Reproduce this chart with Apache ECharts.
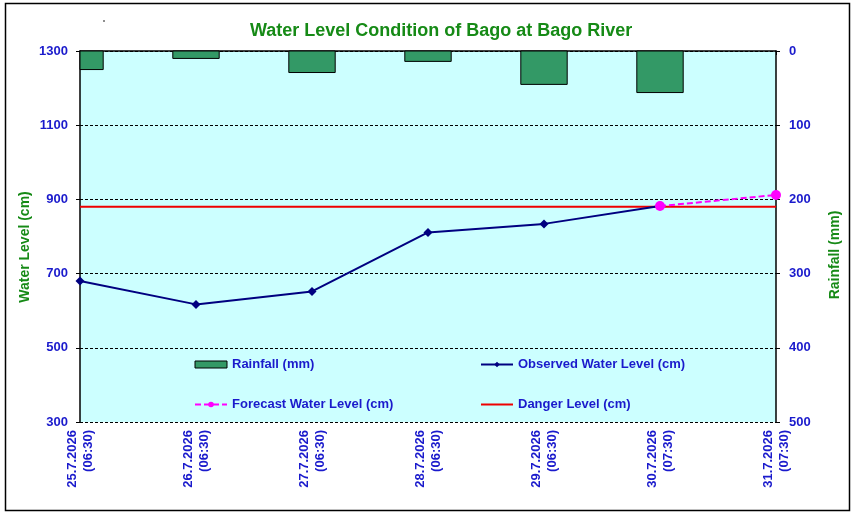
<html>
    <head>
        <meta charset="utf-8">
        <script src="https://cdn.jsdelivr.net/npm/echarts@6/dist/echarts.min.js"></script>
    </head>
    <body>
        <style>
            html, body, #main {
                width: 100%;
                height: 100%;
                margin: 0;
                background: #fff;
            }
        </style>
        <div id='main'></div>
        <script>
            // data
            var dates = ['25.7.2026', '26.7.2026', '27.7.2026', '28.7.2026', '29.7.2026', '30.7.2026', '31.7.2026'];
            var times = ['(06:30)', '(06:30)', '(06:30)', '(06:30)', '(06:30)', '(07:30)', '(07:30)'];
            var rainfall = [25, 10, 29, 14, 45, 56, 0];
            var observed = [680, 617, 652, 811, 834, 882, null];
            var forecast = [null, null, null, null, null, 882, 912];
            var danger = [880, 880, 880, 880, 880, 880, 880];
            var levelTicks = [300, 1300, 200];   // min, max, interval
            var rainTicks = [0, 500, 100];

            var categories = dates.map(function (d, i) { return d + '\n' + times[i]; });

            var blue = '#1a1acc';
            var green = '#168a16';
            var font = 'Arial, "Liberation Sans", sans-serif';
            var labelStyle = { color: blue, fontWeight: 'bold', fontSize: 13, fontFamily: font };

            // bars centred on the ticks, clipped to the plot area
            var renderRain = function (params, api) {
                var v = api.value(1);
                if (!v) return null;
                var p0 = api.coord([api.value(0), 0]);
                var p1 = api.coord([api.value(0), v]);
                var w = api.size([1, 0])[0] * 0.4;
                var cs = params.coordSys;
                var rect = echarts.graphic.clipRectByRect(
                    { x: p0[0] - w / 2, y: p0[1], width: w, height: p1[1] - p0[1] },
                    { x: cs.x, y: cs.y, width: cs.width, height: cs.height }
                );
                return rect && {
                    type: 'rect',
                    shape: rect,
                    style: api.style({ stroke: '#000', lineWidth: 1 })
                };
            };

            var chart = echarts.init(document.getElementById('main'));
            var option = {
                backgroundColor: '#fff',
                animation: false,
                title: {
                    text: 'Water Level Condition of Bago at Bago River',
                    left: 250,
                    top: 22,
                    padding: 0,
                    textStyle: { color: green, fontSize: 18, fontWeight: 'bold', fontFamily: font }
                },
                grid: {
                    left: 80, right: 81, top: 51, bottom: 96,
                    show: true, backgroundColor: '#ccffff', borderWidth: 0
                },
                legend: [{
                    orient: 'vertical',
                    left: 194, top: 358,
                    padding: 0,
                    itemWidth: 32, itemHeight: 7, itemGap: 27,
                    textStyle: labelStyle,
                    data: [
                        { name: 'Rainfall (mm)', icon: 'rect', itemStyle: { color: '#339966', borderColor: '#000', borderWidth: 1 } },
                        'Forecast Water Level (cm)'
                    ]
                }, {
                    orient: 'vertical',
                    left: 480, top: 358,
                    padding: 0,
                    itemWidth: 32, itemHeight: 7, itemGap: 27,
                    textStyle: labelStyle,
                    data: [
                        'Observed Water Level (cm)',
                        { name: 'Danger Level (cm)', itemStyle: { opacity: 0 } }
                    ]
                }],
                xAxis: {
                    type: 'category',
                    boundaryGap: false,
                    data: categories,
                    axisLine: { lineStyle: { color: '#000', width: 1.5 } },
                    axisTick: { length: 4, lineStyle: { color: '#000' } },
                    axisLabel: {
                        rotate: 90, margin: 8, lineHeight: 16, interval: 0,
                        color: blue, fontWeight: 'bold', fontSize: 13, fontFamily: font
                    }
                },
                yAxis: [{
                    type: 'value',
                    position: 'left',
                    min: levelTicks[0], max: levelTicks[1], interval: levelTicks[2],
                    axisLine: { show: true, lineStyle: { color: '#000', width: 1.5 } },
                    axisTick: { show: true, length: 4, lineStyle: { color: '#000' } },
                    axisLabel: Object.assign({ margin: 12, formatter: function (v) { return String(v); } }, labelStyle),
                    splitLine: { show: true, lineStyle: { color: '#000', type: [3, 2], width: 1 } }
                }, {
                    type: 'value',
                    position: 'right',
                    inverse: true,
                    min: rainTicks[0], max: rainTicks[1], interval: rainTicks[2],
                    axisLine: { show: true, lineStyle: { color: '#000', width: 1.5 } },
                    axisTick: { show: true, length: 4, lineStyle: { color: '#000' } },
                    axisLabel: Object.assign({ margin: 13, formatter: function (v) { return String(v); } }, labelStyle),
                    splitLine: { show: false }
                }],
                series: [{
                    name: 'Rainfall (mm)',
                    type: 'custom',
                    yAxisIndex: 1,
                    renderItem: renderRain,
                    encode: { x: 0, y: 1 },
                    itemStyle: { color: '#339966', borderColor: '#000', borderWidth: 1 },
                    data: rainfall.map(function (v, i) { return [i, v]; })
                }, {
                    name: 'Danger Level (cm)',
                    type: 'line',
                    symbol: 'none',
                    lineStyle: { color: '#ee0000', width: 2 },
                    itemStyle: { color: '#cc0000' },
                    data: danger
                }, {
                    name: 'Observed Water Level (cm)',
                    type: 'line',
                    symbol: 'diamond',
                    symbolSize: 9,
                    lineStyle: { color: '#000080', width: 2 },
                    itemStyle: { color: '#000080' },
                    data: observed
                }, {
                    name: 'Forecast Water Level (cm)',
                    type: 'line',
                    symbol: 'circle',
                    symbolSize: 10,
                    lineStyle: { color: '#ff00ff', width: 2, type: [6, 3] },
                    itemStyle: { color: '#ff00ff' },
                    data: forecast
                }],
                graphic: [{
                    type: 'rect',
                    shape: { x: 5.5, y: 3.5, width: 844, height: 507 },
                    style: { fill: 'none', stroke: '#000', lineWidth: 1.5 },
                    silent: true
                }, {
                    type: 'circle',
                    shape: { cx: 104, cy: 21, r: 0.8 },
                    style: { fill: '#000' }
                }, {
                    type: 'text',
                    x: 25, y: 247, rotation: Math.PI / 2,
                    style: {
                        text: 'Water Level (cm)', fill: green, font: 'bold 14px ' + font,
                        align: 'center', verticalAlign: 'middle'
                    }
                }, {
                    type: 'text',
                    x: 835, y: 255, rotation: Math.PI / 2,
                    style: {
                        text: 'Rainfall (mm)', fill: green, font: 'bold 14px ' + font,
                        align: 'center', verticalAlign: 'middle'
                    }
                }]
            };

            chart.setOption(option);

            window.onresize = chart.resize;
        </script>
    </body>
</html>
